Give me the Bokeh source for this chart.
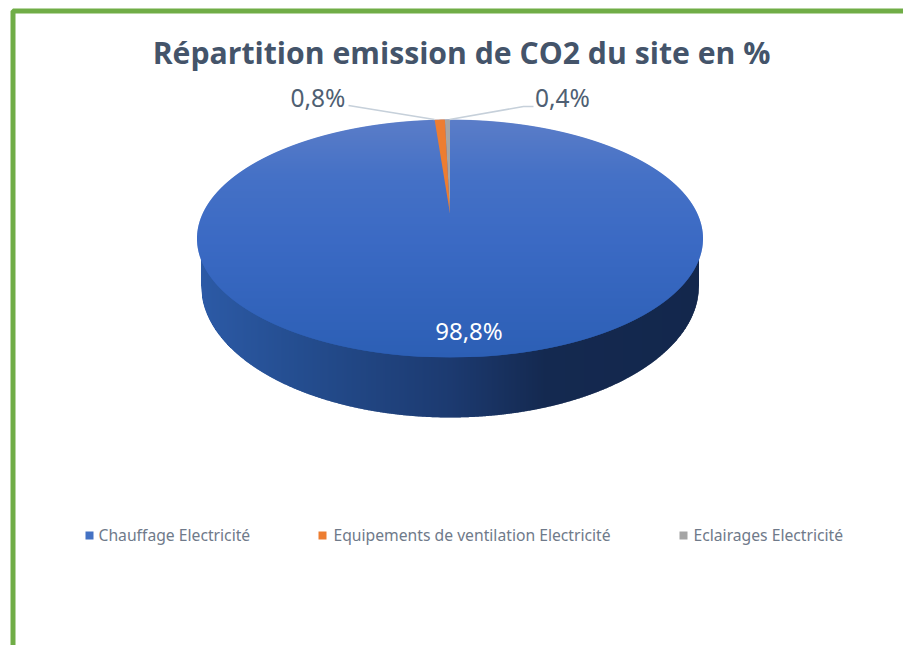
import numpy as np
from bokeh.plotting import figure
from bokeh.models import Range1d
from bokeh.core.properties import value
from bokeh.embed import file_html
from bokeh.resources import INLINE

TITLE = "Répartition emission de CO2 du site en %"
categories = ["Chauffage Electricité", "Equipements de ventilation Electricité", "Eclairages Electricité"]
shares = [98.8, 0.8, 0.4]
share_labels = ["98,8%", "0,8%", "0,4%"]
slice_colors = ["#4472c4", "#ed7d31", "#a5a5a5"]

FONT = "Noto Sans"
W, H = 903, 645
p = figure(width=W, height=H, output_backend="svg", toolbar_location=None,
           x_range=Range1d(0, W), y_range=Range1d(H, 0),
           x_axis_type=None, y_axis_type=None, min_border=0, outline_line_color=None,
           background_fill_color="white", border_fill_color="white")
p.grid.visible = False

# green frame, open towards the right and bottom of the page
p.line([12.5, 12.5, W], [H, 10.5, 10.5], line_color="#70ad47", line_width=5)

# perspective of the pie
CX, APEX_Y = 449.5, 213.0
A, B, C = 0.21, 113.7, 247.0
def project(theta):
    u, v = np.sin(theta), np.cos(theta)
    w = 1 + A * v
    return CX + C * u / w, APEX_Y - B * v / w

RX, RY, CY = 253.0, 119.0, 238.0
BRX, BRY, BCY = 249.0, 132.0, 285.0

def hexc(c):
    return "#%02x%02x%02x" % tuple(int(round(k)) for k in c)

# side wall
sx = np.arange(CX - BRX, CX + BRX, 1.0)
side_stops_x = [200, 300, 450, 545, 700]
side_stops = np.array([[44, 90, 166], [36, 77, 143], [28, 58, 112], [20, 41, 80], [19, 39, 76]])
xs, ys, cols = [], [], []
for x0 in sx:
    x1 = min(x0 + 1.6, CX + BRX)
    b0 = BCY + BRY * np.sqrt(max(0, 1 - ((x0 - CX) / BRX) ** 2))
    b1 = BCY + BRY * np.sqrt(max(0, 1 - ((x1 - CX) / BRX) ** 2))
    xs.append([x0, x1, x1, x0])
    ys.append([CY, CY, b1, b0])
    cols.append(hexc([np.interp(x0 + 0.5, side_stops_x, side_stops[:, k]) for k in range(3)]))
p.patches(xs, ys, fill_color=cols, line_color=None)

# top face, vertical gradient
ty = np.arange(CY - RY, CY + RY, 1.0)
face_stops_y = [119, 175, 240, 357]
face_stops = np.array([[91, 125, 200], [69, 113, 198], [59, 106, 196], [44, 95, 181]])
xs, ys, cols = [], [], []
for y0 in ty:
    y_up = max(y0 - 0.6, CY - RY)
    y_dn = min(y0 + 1.0, CY + RY)
    yy = np.linspace(y_up, y_dn, 3)
    half = RX * np.sqrt(np.clip(1 - ((yy - CY) / RY) ** 2, 0, 1))
    xs.append(list(CX - half) + list((CX + half)[::-1]))
    ys.append(list(yy) + list(yy[::-1]))
    cols.append(hexc([np.interp(y0 + 0.5, face_stops_y, face_stops[:, k]) for k in range(3)]))
p.patches(xs, ys, fill_color=cols, line_color=None)

# small slices, counter-clockwise from 12 o'clock (the big slice runs clockwise from there)
end = 0.0
for share, color in list(zip(shares[1:], slice_colors[1:]))[::-1]:
    start = end - share / 100 * 2 * np.pi
    t = np.linspace(start, end, 6)
    ax, ay = project(t)
    p.patch([CX] + list(ax), [APEX_Y] + list(ay), fill_color=color, line_color=None)
    end = start

# leader lines
LEADER = "#c6d0da"
p.line([348, 434], [105, 119], line_color=LEADER, line_width=1.6)
p.line([449, 523, 533], [119, 106, 106], line_color=LEADER, line_width=1.6)

# data labels
p.text([468.5], [330], text=[share_labels[0]], text_color="white", text_font=value(FONT),
       text_font_size="24px", text_align="center", text_baseline="middle")
p.text([317.5, 562], [97, 97], text=share_labels[1:], text_color="#4f5f73", text_font=value(FONT),
       text_font_size="24.5px", text_align="center", text_baseline="middle")

# title
p.text([461], [52], text=[TITLE], text_color="#44546a", text_font=value("Open Sans"),
       text_font_style="bold", text_font_size="30.2px", text_align="center", text_baseline="middle")

# legend
p.scatter([89, 322, 683], [535, 535, 535], marker="square", size=8, fill_color=slice_colors, line_color=None)
p.text([98, 333, 693], [534, 534, 534], text=categories, text_color="#6f7a8a", text_font=value(FONT),
       text_font_size="15.7px", text_align="left", text_baseline="middle")

open("out.html", "w").write(file_html(p, INLINE))
